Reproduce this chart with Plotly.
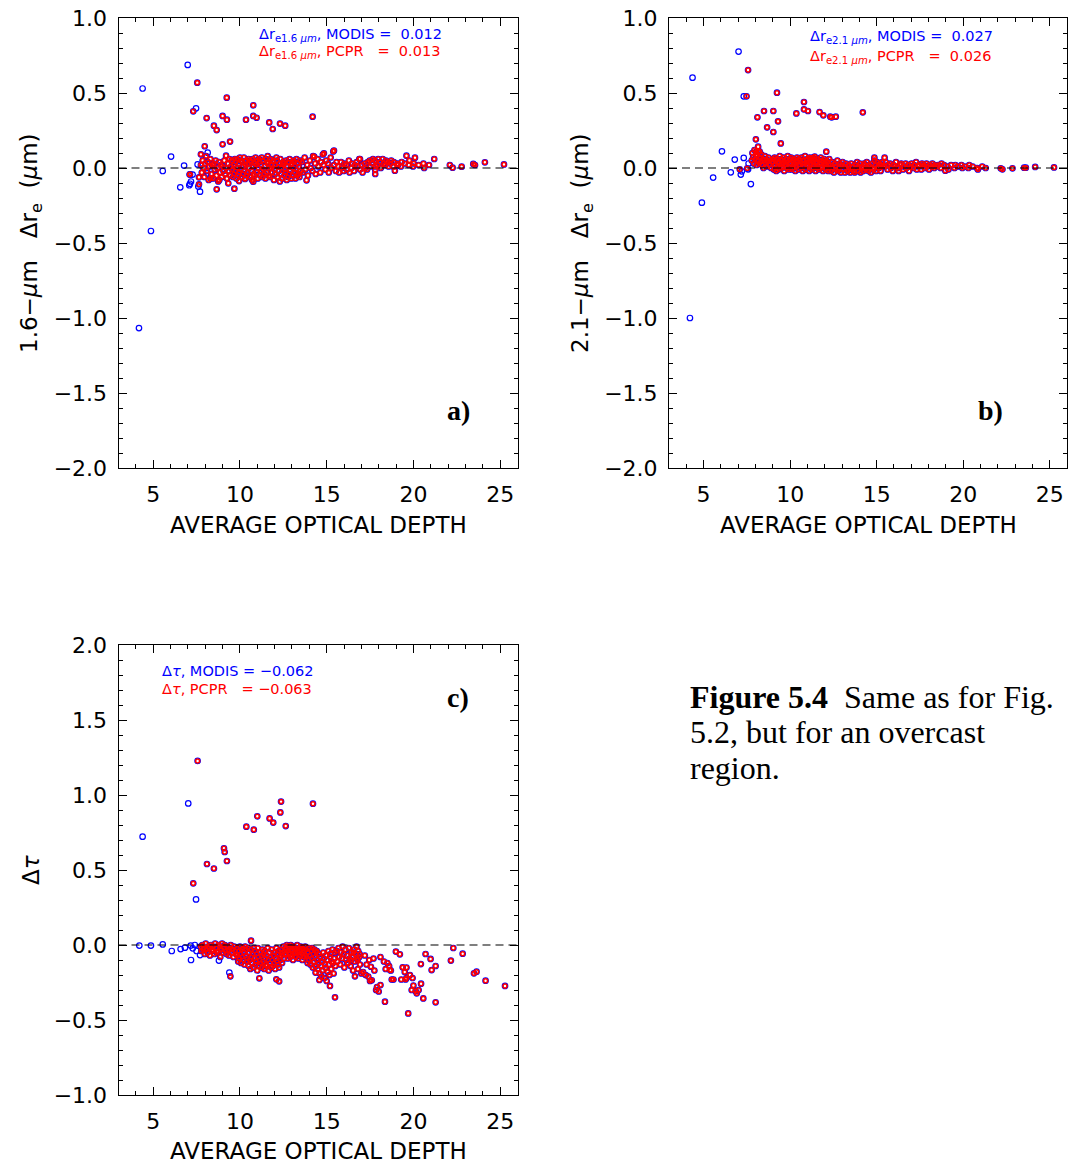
import plotly.graph_objects as go

# ---------------- DATA ----------------
# Panel a: 1.6-um delta r_e vs average optical depth
tau_a_modis_only = [4.18, 4.39, 4.87, 5.55, 6.03, 6.56, 6.78, 6.99, 7.08, 7.12,
                    7.18, 7.27, 7.47, 7.56, 7.60, 7.70, 8.12, 8.14, 9.37, 11.00]
dre16_a_modis_only = [-1.067, 0.530, -0.420, -0.020, 0.076, -0.129, 0.016, 0.687, -0.115, -0.105,
                      -0.090, -0.044, 0.398, 0.024, -0.124, -0.158, -0.036, 0.102, 0.027, -0.013]

tau_a_outl = [7.10, 7.12, 7.31, 7.54, 7.64, 7.64, 7.75, 7.97, 8.08, 8.31,
              8.50, 8.66, 8.66, 8.81, 9.00, 9.00, 9.20, 9.24, 9.25, 9.33,
              9.43, 9.68, 9.95, 10.29, 10.35, 10.77, 10.77, 10.77, 10.96, 11.69,
              11.89, 12.31, 12.61, 13.84, 14.19, 14.28, 14.84, 15.42, 16.92, 17.80,
              17.80, 18.93, 19.60, 20.09, 21.20, 22.10, 22.26, 22.78, 23.45, 23.55,
              24.12, 25.22]
dre16_a_outl = [-0.044, -0.042, 0.378, 0.569, -0.062, -0.109, 0.091, 0.145, 0.333, -0.069,
                0.282, 0.253, -0.142, -0.080, 0.347, 0.158, 0.082, 0.469, 0.322, -0.102,
                0.176, -0.138, -0.087, -0.073, 0.322, 0.418, 0.347, -0.091, 0.335, 0.304,
                0.260, 0.296, 0.282, -0.082, 0.342, 0.076, 0.098, 0.116, 0.060, -0.013,
                -0.040, -0.018, 0.082, 0.069, 0.060, 0.020, 0.002, 0.009, 0.027, 0.020,
                0.038, 0.024]

tau_a_band = [
    7.75, 7.80, 7.85, 7.90, 7.95, 8.00, 8.05, 8.10, 8.15, 8.20,
    8.25, 8.30, 8.35, 8.40, 8.45, 8.50, 8.55, 8.60, 8.65, 8.70,
    8.75, 8.80, 8.85, 8.90, 8.95, 9.00, 9.05, 9.10, 9.15, 9.20,
    9.25, 9.30, 9.35, 9.40, 9.45, 9.50,
    9.53, 9.56, 9.60, 9.63, 9.66, 9.70, 9.73, 9.77, 9.80, 9.83, 9.86, 9.90, 9.93, 9.96, 10.00,
    10.03, 10.06, 10.10, 10.13, 10.17, 10.20, 10.23, 10.26, 10.30, 10.33, 10.36, 10.40, 10.43, 10.47, 10.50,
    10.53, 10.56, 10.60, 10.63, 10.66, 10.70, 10.73, 10.77, 10.80, 10.83, 10.86, 10.90, 10.93, 10.96, 11.00,
    11.03, 11.06, 11.10, 11.13, 11.17, 11.20, 11.23, 11.26, 11.30, 11.33, 11.36, 11.40, 11.43, 11.47, 11.50,
    11.53, 11.56, 11.60, 11.63, 11.66, 11.70, 11.73, 11.77, 11.80, 11.83, 11.86, 11.90, 11.93, 11.96, 12.00,
    12.03, 12.06, 12.10, 12.13, 12.17, 12.20, 12.23, 12.26, 12.30, 12.33, 12.36, 12.40, 12.43, 12.47, 12.50,
    12.53, 12.56, 12.60, 12.63, 12.66, 12.70, 12.73, 12.77, 12.80, 12.83, 12.86, 12.90, 12.93, 12.96, 13.00,
    13.03, 13.06, 13.10, 13.13, 13.17, 13.20, 13.23, 13.26, 13.30, 13.33, 13.36, 13.40, 13.43, 13.47, 13.50,
    13.58, 13.62, 13.73, 13.77, 13.88, 13.92, 14.03, 14.07, 14.18, 14.22, 14.33, 14.37, 14.48, 14.52,
    14.63, 14.67, 14.78, 14.82, 14.93, 14.97, 15.08, 15.12, 15.23, 15.27, 15.38, 15.42, 15.53, 15.57,
    15.68, 15.72, 15.83, 15.87, 15.98, 16.02, 16.13, 16.17, 16.28, 16.32, 16.43, 16.47, 16.58,
    16.62, 16.73, 16.77, 16.88, 16.92, 17.03, 17.07, 17.18, 17.22, 17.33, 17.37, 17.48, 17.52,
    17.63, 17.67, 17.78, 17.82, 17.93, 17.97, 18.08, 18.12, 18.23,
    18.27, 18.38, 18.42, 18.53, 18.57, 18.68, 18.72, 18.83, 18.87,
    19.08, 19.12, 19.28, 19.32, 19.50, 19.73, 19.77, 19.98, 20.02, 20.30, 20.58, 20.62, 20.90]
dre16_a_band = [
    0.02, -0.03, 0.05, 0.00, -0.06, 0.03, 0.08, -0.02, 0.04, -0.08,
    0.01, 0.06, -0.04, 0.02, -0.07, 0.03, -0.01, 0.05, -0.05, 0.00,
    -0.09, 0.04, -0.03, 0.02, -0.06, 0.01, -0.02, 0.05, -0.04, 0.00,
    -0.07, 0.03, -0.02, 0.06, -0.05, 0.01,
    0.05, -0.01, -0.06, 0.02, -0.04, 0.06, -0.02, 0.04, -0.07, 0.06, 0.00, -0.05, 0.03, -0.03, 0.07,
    -0.01, 0.05, -0.06, 0.04, -0.04, 0.01, 0.07, -0.02, -0.07, 0.02, 0.05, -0.05, -0.03, 0.03, 0.06,
    0.00, -0.06, 0.05, 0.04, -0.02, -0.08, 0.06, 0.01, -0.04, -0.05, 0.03, 0.07, 0.02, -0.03, 0.05,
    -0.07, 0.00, 0.06, 0.04, -0.05, 0.02, -0.02, 0.07, -0.06, 0.05, -0.01, -0.04, 0.01, -0.07, 0.06,
    -0.03, 0.04, 0.08, 0.03, -0.05, 0.00, -0.06, 0.06, 0.02, 0.00, -0.03, 0.05, 0.04, -0.08, -0.01,
    -0.04, 0.02, 0.07, 0.05, -0.06, 0.01, -0.02, 0.03, -0.09, 0.06, -0.04, 0.00, -0.07, 0.02, 0.04,
    0.03, -0.05, -0.01, -0.03, 0.05, -0.08, 0.01, -0.06, 0.04, -0.04, 0.06, -0.02, 0.02, -0.07, 0.03,
    -0.05, 0.00, 0.05, 0.04, -0.03, -0.07, -0.01, 0.06, -0.05, 0.03, -0.04, 0.01, -0.06, 0.05, -0.02,
    0.04, -0.03, 0.07, -0.01, 0.02, -0.05, 0.05, 0.00, -0.02, 0.08, 0.03, -0.04, 0.06, 0.01,
    -0.03, 0.04, 0.09, 0.02, -0.01, 0.05, 0.03, -0.03, 0.07, 0.00, 0.11, 0.02, -0.02, 0.04,
    0.01, -0.03, 0.04, 0.00, -0.02, 0.03, 0.02, -0.01, 0.05, -0.03, 0.00, 0.03, -0.02,
    0.02, 0.04, 0.01, 0.06, -0.01, 0.02, -0.03, 0.03, 0.00, -0.01, 0.04, 0.05, 0.01,
    0.03, 0.06, 0.05, 0.01, 0.02, 0.06, 0.04, 0.00, 0.06,
    0.03, 0.02, 0.05, 0.04, 0.01, 0.03, 0.05, 0.01, 0.04,
    0.03, 0.02, 0.01, 0.04, 0.03, 0.02, 0.05, 0.01, 0.03, 0.02, 0.03, 0.00, 0.02]

# Panel b: 2.1-um delta r_e vs average optical depth
tau_b_modis_only = [4.21, 4.36, 4.90, 5.55, 6.06, 6.57, 6.80, 7.02, 7.15, 7.21,
                    7.32, 7.32, 7.57, 7.60, 7.73]
dre21_b_modis_only = [-1.000, 0.602, -0.231, -0.064, 0.111, -0.029, 0.056, 0.776, -0.044, -0.022,
                      0.478, 0.067, -0.009, 0.030, -0.107]

tau_b_outl = [7.09, 7.48, 7.52, 7.57, 8.02, 8.05, 8.11, 8.15, 8.24, 8.49,
              8.67, 9.03, 9.03, 9.24, 9.30, 9.46, 10.36, 10.80, 10.80, 11.03,
              11.12, 11.42, 11.70, 11.92, 12.09, 12.32, 12.40, 12.64, 14.20, 14.87,
              15.46, 18.97, 22.17, 22.27, 22.85, 23.52, 23.62, 24.16, 25.25]
dre21_b_outl = [-0.009, 0.478, -0.002, 0.653, 0.191, 0.109, 0.338, 0.142, 0.109, 0.380,
                0.271, 0.380, 0.240, 0.502, 0.311, 0.164, 0.364, 0.440, 0.391, 0.380,
                0.069, 0.076, 0.373, 0.351, 0.109, 0.342, 0.338, 0.342, 0.371, 0.069,
                0.069, -0.018, -0.002, -0.009, -0.002, 0.002, 0.002, 0.007, 0.004]

tau_b_band = [
    7.78, 7.82, 7.86, 7.90, 7.94, 7.98, 8.02, 8.06, 8.10, 8.14,
    8.18, 8.22, 8.26, 8.30, 8.34, 8.38, 8.42, 8.46, 8.50, 8.54,
    8.58, 8.62, 8.66, 8.70, 8.75, 8.80, 8.85, 8.90, 8.95, 9.00,
    9.03, 9.06, 9.10, 9.13, 9.16, 9.20, 9.23, 9.27, 9.30, 9.33, 9.36, 9.40, 9.43, 9.47, 9.50,
    9.53, 9.56, 9.60, 9.63, 9.66, 9.70, 9.73, 9.77, 9.80, 9.83, 9.86, 9.90, 9.93, 9.96, 10.00,
    10.03, 10.06, 10.10, 10.13, 10.17, 10.20, 10.23, 10.26, 10.30, 10.33, 10.36, 10.40, 10.43, 10.47, 10.50,
    10.53, 10.56, 10.60, 10.63, 10.66, 10.70, 10.73, 10.77, 10.80, 10.83, 10.86, 10.90, 10.93, 10.96, 11.00,
    11.03, 11.06, 11.10, 11.13, 11.17, 11.20, 11.23, 11.26, 11.30, 11.33, 11.36, 11.40, 11.43, 11.47, 11.50,
    11.53, 11.56, 11.60, 11.63, 11.66, 11.70, 11.73, 11.77, 11.80, 11.83, 11.86, 11.90, 11.93, 11.96, 12.00,
    12.03, 12.06, 12.10, 12.13, 12.17, 12.20, 12.23, 12.26, 12.30,
    12.33, 12.37, 12.43, 12.47, 12.53, 12.57, 12.63, 12.67, 12.73, 12.77,
    12.83, 12.87, 12.93, 12.97, 13.03, 13.07, 13.13, 13.17, 13.23, 13.27,
    13.33, 13.37, 13.43, 13.47, 13.53, 13.57, 13.63, 13.67, 13.73, 13.77,
    13.83, 13.87, 13.93, 13.97, 14.03, 14.07, 14.13, 14.17, 14.23, 14.27,
    14.33, 14.37, 14.43, 14.47, 14.53, 14.57, 14.63, 14.67, 14.73, 14.77,
    14.83, 14.87, 14.93, 14.97, 15.03, 15.07, 15.13, 15.17, 15.23, 15.27,
    15.33, 15.37,
    15.48, 15.52, 15.63, 15.67, 15.78, 15.82, 15.93, 15.97, 16.08, 16.12,
    16.23, 16.27, 16.38, 16.42, 16.53, 16.57, 16.68, 16.72, 16.83, 16.87,
    16.98, 17.02, 17.13, 17.17, 17.28, 17.32, 17.43, 17.47, 17.58, 17.62,
    17.73, 17.77, 17.88, 17.92, 18.03, 18.07, 18.18, 18.22, 18.33, 18.37,
    18.50, 18.55, 18.70, 18.75, 18.90, 19.10, 19.15, 19.30, 19.50, 19.55,
    19.70, 19.90, 19.95, 20.10, 20.30, 20.35, 20.55, 20.80, 20.85, 21.10,
    21.30]
dre21_b_band = [
    0.05, 0.10, 0.07, 0.03, 0.12, 0.06, 0.09, 0.02, 0.08, 0.05,
    0.11, 0.03, 0.07, 0.04, 0.09, 0.02, 0.06, 0.00, 0.05, 0.08,
    0.03, 0.06, 0.01, 0.04, 0.07, 0.02, 0.05, 0.00, 0.04, 0.06,
    0.04, -0.01, 0.07, 0.02, 0.05, -0.02, 0.06, 0.01, 0.03, -0.01, 0.04, 0.08, 0.02, 0.06, 0.00,
    0.05, 0.01, 0.03, 0.07, -0.02, 0.04, 0.02, 0.06, 0.00, 0.04, 0.08, 0.01, -0.01, 0.03, 0.06,
    0.03, 0.07, -0.01, 0.05, 0.00, 0.02, 0.06, 0.03, -0.02, 0.01, 0.05, 0.07, 0.04, -0.01, 0.02,
    0.06, 0.02, 0.04, 0.00, 0.07, 0.03, -0.02, 0.05, 0.01, 0.03, 0.08, -0.01, 0.05, 0.02, 0.06,
    0.01, 0.04, -0.02, 0.06, 0.03, 0.00, 0.05, -0.01, 0.07, 0.02, 0.04, 0.01, 0.06, -0.02, 0.03,
    0.04, 0.00, 0.06, 0.02, -0.01, 0.05, 0.03, 0.07, 0.00, 0.05, 0.01, -0.02, 0.04, 0.06, 0.02,
    0.03, -0.01, 0.05, 0.01, 0.04, -0.02, 0.02, 0.06, 0.00,
    0.02, -0.02, 0.04, 0.00, -0.03, 0.03, 0.01, -0.01, 0.05, -0.02,
    0.00, 0.03, -0.03, 0.02, 0.04, -0.01, 0.01, -0.03, 0.03, 0.00,
    -0.02, 0.02, 0.00, -0.03, 0.03, -0.01, 0.01, -0.02, -0.03, 0.02,
    0.00, 0.04, -0.02, 0.01, 0.03, -0.03, 0.01, 0.00, -0.02, 0.03,
    0.02, -0.01, 0.04, 0.00, -0.02, 0.02, 0.01, -0.03, 0.03, 0.00,
    -0.01, 0.05, 0.02, -0.02, 0.04, 0.01, 0.00, 0.03, -0.02, 0.02,
    0.04, 0.01,
    0.01, 0.04, -0.01, 0.02, 0.03, 0.00, -0.02, 0.02, 0.01, 0.04,
    0.00, -0.02, 0.02, 0.03, -0.01, 0.01, 0.03, 0.00, 0.02, -0.02,
    0.01, 0.03, 0.00, 0.02, 0.04, -0.01, 0.01, 0.02, -0.01, 0.03,
    0.02, 0.00, 0.03, 0.01, -0.01, 0.02, 0.01, 0.03, 0.00, 0.02,
    0.01, 0.02, 0.00, 0.03, 0.02, 0.01, -0.01, 0.02, 0.00, 0.02,
    0.01, 0.02, 0.00, 0.01, 0.00, 0.02, 0.01, 0.00, -0.01, 0.01,
    0.00]

# Panel c: delta tau vs average optical depth
tau_c_modis_only = [4.20, 4.39, 4.87, 5.55, 6.07, 6.58, 6.83, 7.02, 7.16, 7.18,
                    7.28, 7.40, 7.47, 7.50, 7.70, 8.79, 9.39]
dtau_c_modis_only = [-0.004, 0.722, -0.004, 0.004, -0.040, -0.027, -0.018, 0.944, -0.004, -0.100,
                     -0.022, 0.000, 0.304, -0.040, -0.067, -0.104, -0.184]

tau_c_outl = [7.31, 7.56, 8.10, 8.50, 9.08, 9.12, 9.25, 10.37, 10.80, 11.00,
              11.71, 11.92, 12.33, 12.37, 12.64, 14.21,
              9.45, 10.64, 11.12, 12.10, 12.26, 14.36, 14.58, 15.19, 15.48, 16.63,
              18.36, 19.70, 20.57, 21.28, 20.19, 20.13, 20.44, 18.99, 19.22, 20.70,
              20.99, 21.28, 21.05, 20.43, 22.30, 22.16, 22.84, 23.49, 23.64, 24.16,
              25.28, 18.65, 19.38,
              16.80, 17.00, 17.10, 17.25, 17.30, 17.50, 17.55, 17.60, 17.75, 17.85,
              17.90, 18.00, 18.10, 18.30, 18.40, 18.50, 18.60, 18.70, 18.75, 18.85,
              19.30, 19.50, 19.55, 19.60, 19.80, 19.95, 16.90, 17.20, 17.45, 17.70,
              16.40, 16.55, 16.20, 16.75, 18.10, 19.60, 20.00, 19.90, 20.30, 17.40]
dtau_c_outl = [0.411, 1.227, 0.540, 0.510, 0.645, 0.620, 0.560, 0.789, 0.769, 0.858,
               0.844, 0.816, 0.884, 0.956, 0.793, 0.942,
               -0.209, 0.029, -0.222, -0.229, -0.242, -0.184, -0.233, -0.273, -0.349, -0.209,
               -0.378, -0.456, -0.356, -0.382, -0.322, -0.307, -0.258, -0.044, -0.062, -0.060,
               -0.093, -0.140, -0.167, -0.127, -0.020, -0.104, -0.058, -0.189, -0.178, -0.238,
               -0.273, -0.167, -0.149,
               -0.160, -0.190, -0.180, -0.200, -0.130, -0.240, -0.145, -0.235, -0.170, -0.300,
               -0.280, -0.310, -0.267, -0.110, -0.160, -0.120, -0.140, -0.170, -0.230, -0.230,
               -0.230, -0.180, -0.230, -0.220, -0.200, -0.220, -0.060, -0.070, -0.100, -0.090,
               -0.100, -0.050, -0.120, -0.090, -0.080, -0.150, -0.270, -0.300, -0.300, -0.210]

tau_c_band = [
    7.73, 7.77, 7.83, 7.87, 7.93, 7.97, 8.03, 8.07, 8.13, 8.17, 8.23, 8.27, 8.33, 8.37, 8.43, 8.47, 8.53, 8.57, 8.63, 8.67,
    8.73, 8.77, 8.83, 8.87, 8.93, 8.97, 9.03, 9.07, 9.13, 9.17, 9.23, 9.27, 9.33, 9.37, 9.43, 9.47, 9.53, 9.57, 9.63, 9.67,
    9.73, 9.77,
    9.83, 9.86, 9.90, 9.93, 9.96, 10.00, 10.03, 10.06, 10.10, 10.13, 10.17, 10.20, 10.23, 10.26, 10.30,
    10.33, 10.36, 10.40, 10.43, 10.47, 10.50, 10.53, 10.56, 10.60, 10.63, 10.66, 10.70, 10.73, 10.77, 10.80,
    10.83, 10.86, 10.90, 10.93, 10.96, 11.00, 11.03, 11.06, 11.10, 11.13, 11.17, 11.20, 11.23, 11.26, 11.30,
    11.33, 11.36, 11.40, 11.43, 11.47, 11.50, 11.53, 11.56, 11.60, 11.63, 11.66, 11.70, 11.73, 11.77, 11.80,
    11.83, 11.86, 11.90, 11.93, 11.96, 12.00, 12.03, 12.06, 12.10, 12.13, 12.17, 12.20, 12.23, 12.26, 12.30,
    12.33, 12.36, 12.40, 12.43, 12.47, 12.50, 12.53, 12.56, 12.60,
    12.63, 12.66, 12.70, 12.73, 12.76, 12.80, 12.83, 12.86, 12.90, 12.93, 12.96, 13.00, 13.03, 13.06, 13.10, 13.13, 13.16, 13.20,
    13.23, 13.26, 13.30, 13.33, 13.36, 13.40, 13.43, 13.46, 13.50, 13.53, 13.56, 13.60, 13.63, 13.66, 13.70, 13.73, 13.76, 13.80,
    13.83, 13.86, 13.90, 13.93, 13.96, 14.00, 14.03, 14.06, 14.10, 14.13, 14.16, 14.20, 14.23, 14.26, 14.30, 14.33, 14.36, 14.40,
    14.43, 14.46, 14.50, 14.53, 14.56, 14.60, 14.63, 14.66, 14.70, 14.73, 14.76, 14.80, 14.83, 14.86, 14.90, 14.93, 14.96, 15.00,
    15.03, 15.06, 15.10, 15.13, 15.16, 15.20, 15.23, 15.26, 15.30, 15.33, 15.36, 15.40, 15.43, 15.46, 15.50,
    15.58, 15.62, 15.68, 15.72, 15.78, 15.82, 15.88, 15.92, 15.98, 16.02, 16.08, 16.12, 16.18, 16.22,
    16.28, 16.32, 16.38, 16.42, 16.48, 16.52, 16.58, 16.62, 16.68, 16.72, 16.78, 16.82, 16.88, 16.92]
dtau_c_band = [
    -0.01, -0.04, 0.00, -0.03, -0.02, -0.06, 0.01, -0.03, -0.05, -0.01, -0.02, -0.07, 0.00, -0.04, -0.03, -0.01, -0.06, 0.01, -0.02, -0.05,
    -0.04, 0.00, -0.01, -0.08, -0.03, 0.01, -0.05, -0.02, 0.00, -0.04, -0.06, -0.01, -0.03, -0.07, -0.02, 0.00, -0.05, -0.03, -0.08, -0.01,
    -0.04, -0.06,
    -0.02, -0.07, -0.11, -0.04, -0.09, -0.01, -0.06, -0.12, -0.03, -0.08, -0.02, -0.10, -0.05, -0.13, -0.01,
    -0.07, -0.03, -0.11, -0.09, -0.02, -0.14, -0.05, -0.10, -0.16, -0.03, -0.08, -0.12, -0.06, -0.15, -0.02,
    -0.09, -0.04, -0.13, -0.11, -0.06, -0.17, -0.02, -0.08, -0.14, -0.10, -0.05, -0.12, -0.07, -0.15, -0.03,
    -0.11, -0.06, -0.16, -0.04, -0.09, -0.13, -0.07, -0.14, -0.02, -0.10, -0.17, -0.05, -0.12, -0.08, -0.15,
    -0.03, -0.10, -0.14, -0.07, -0.12, -0.05, -0.16, -0.09, -0.02, -0.11, -0.06, -0.13, -0.04, -0.15, -0.08,
    -0.10, -0.03, -0.07, -0.12, -0.05, -0.01, -0.09, -0.04, -0.06,
    -0.02, -0.06, 0.00, -0.04, -0.09, -0.01, -0.05, -0.02, -0.08, 0.00, -0.04, -0.07, -0.03, -0.10, -0.01, -0.06, -0.02, -0.05,
    -0.08, -0.03, 0.00, -0.05, -0.09, -0.02, -0.04, -0.07, -0.01, -0.03, -0.06, -0.10, -0.02, -0.05, -0.08, -0.04, -0.01, -0.07,
    -0.03, -0.08, -0.12, -0.05, -0.10, -0.02, -0.07, -0.13, -0.04, -0.09, -0.02, -0.15, -0.06, -0.11, -0.03, -0.08, -0.14, -0.05,
    -0.04, -0.10, -0.16, -0.12, -0.06, -0.19, -0.08, -0.14, -0.21, -0.11, -0.17, -0.05, -0.09, -0.22, -0.13, -0.15, -0.07, -0.24,
    -0.10, -0.18, -0.04, -0.13, -0.20, -0.08, -0.06, -0.16, -0.11, -0.03, -0.12, -0.19, -0.09, -0.05, -0.14,
    -0.04, -0.11, -0.02, -0.08, -0.13, -0.05, -0.09, -0.01, -0.06, -0.15, -0.03, -0.10, -0.07, -0.12,
    -0.02, -0.09, -0.14, -0.05, -0.08, -0.17, -0.03, -0.11, -0.06, -0.01, -0.10, -0.04, -0.08, -0.13]

x_ticks = [5, 10, 15, 20, 25]
legend_a = ["0.012", "0.013"]
legend_b = ["0.027", "0.026"]
legend_c = ["\u22120.062", "\u22120.063"]

# ---------------- LAYOUT HELPERS ----------------
W, H = 1068, 1163
def fx(p):
    return p / W
def fy(p):
    return 1 - p / H

BLUE = "#0000ff"
RED = "#ff0000"
TICKFONT = dict(family="DejaVu Sans", size=22, color="black")

fig = go.Figure()

panels = [
    ("x", "y", tau_a_modis_only + tau_a_outl + tau_a_band, dre16_a_modis_only + dre16_a_outl + dre16_a_band,
     tau_a_outl + tau_a_band, dre16_a_outl + dre16_a_band),
    ("x2", "y2", tau_b_modis_only + tau_b_outl + tau_b_band, dre21_b_modis_only + dre21_b_outl + dre21_b_band,
     tau_b_outl + tau_b_band, dre21_b_outl + dre21_b_band),
    ("x3", "y3", tau_c_modis_only + tau_c_outl + tau_c_band, dtau_c_modis_only + dtau_c_outl + dtau_c_band,
     tau_c_outl + tau_c_band, dtau_c_outl + dtau_c_band),
]
for xa, ya, mx, my, px_, py_ in panels:
    fig.add_trace(go.Scatter(x=mx, y=my, xaxis=xa, yaxis=ya, mode="markers", name="MODIS",
                             marker=dict(symbol="circle-open", size=5.5, color=BLUE,
                                         line=dict(width=1.2, color=BLUE)),
                             showlegend=False, cliponaxis=False))
    fig.add_trace(go.Scatter(x=px_, y=py_, xaxis=xa, yaxis=ya, mode="markers", name="PCPR",
                             marker=dict(symbol="circle-open", size=4, color=RED,
                                         line=dict(width=1.6, color=RED)),
                             showlegend=False, cliponaxis=False))

def xaxis_cfg(dom, anchor):
    return dict(domain=dom, anchor=anchor, range=[3, 26], tickvals=x_ticks, automargin=False,
                ticks="inside", ticklen=8, tickwidth=1, tickcolor="black",
                minor=dict(dtick=1, tick0=0, ticks="inside", ticklen=4, tickwidth=1, tickcolor="black"),
                showline=True, linecolor="black", linewidth=1, mirror="ticks",
                showgrid=False, zeroline=False, tickfont=TICKFONT, ticklabelstandoff=7)

def yaxis_cfg(dom, anchor, rng):
    return dict(domain=dom, anchor=anchor, range=rng, dtick=0.5, tick0=0, tickformat=".1f",
                automargin=False,
                ticks="inside", ticklen=8, tickwidth=1, tickcolor="black",
                minor=dict(dtick=0.1, tick0=0, ticks="inside", ticklen=4, tickwidth=1, tickcolor="black"),
                showline=True, linecolor="black", linewidth=1, mirror="ticks",
                showgrid=False, zeroline=False, tickfont=TICKFONT, ticklabelstandoff=6)

xa_dom = [fx(118.5), fx(517.5)]
xb_dom = [fx(669), fx(1067)]
yab_dom = [fy(468), fy(18)]
yc_dom = [fy(1095), fy(645)]

fig.update_layout(
    width=W, height=H, margin=dict(l=0, r=0, t=0, b=0, pad=0, autoexpand=False),
    paper_bgcolor="white", plot_bgcolor="white", showlegend=False,
    xaxis=xaxis_cfg(xa_dom, "y"), yaxis=yaxis_cfg(yab_dom, "x", [-2, 1]),
    xaxis2=xaxis_cfg(xb_dom, "y2"), yaxis2=yaxis_cfg(yab_dom, "x2", [-2, 1]),
    xaxis3=xaxis_cfg(xa_dom, "y3"), yaxis3=yaxis_cfg(yc_dom, "x3", [-1, 2]),
)

# zero reference lines
for xr, yr in [("x domain", "y"), ("x2 domain", "y2"), ("x3 domain", "y3")]:
    fig.add_shape(type="line", xref=xr, yref=yr, x0=0, x1=1, y0=0, y1=0,
                  line=dict(color="black", width=1.2, dash="8px,5px"))

ann = []
AXFONT = dict(family="DejaVu Sans", size=23, color="black")
NB = "\u00a0"
# x axis titles
for cx, cy in [((118.5 + 517.5) / 2, 525), ((669 + 1067) / 2, 525), ((118.5 + 517.5) / 2, 1151)]:
    ann.append(dict(text="AVERAGE OPTICAL DEPTH", x=fx(cx), y=fy(cy), xref="paper", yref="paper",
                    xanchor="center", yanchor="middle", showarrow=False, font=AXFONT))
# y axis titles
ann.append(dict(text="1.6\u2212<i>\u03bc</i>m" + NB * 3 + "\u0394r<sub>e</sub>" + NB * 2 + "(<i>\u03bc</i>m)",
                x=fx(31), y=fy(243),
                xref="paper", yref="paper", textangle=-90, xanchor="center", yanchor="middle",
                showarrow=False, font=AXFONT))
ann.append(dict(text="2.1\u2212<i>\u03bc</i>m" + NB * 3 + "\u0394r<sub>e</sub>" + NB * 2 + "(<i>\u03bc</i>m)",
                x=fx(582), y=fy(243),
                xref="paper", yref="paper", textangle=-90, xanchor="center", yanchor="middle",
                showarrow=False, font=AXFONT))
ann.append(dict(text="\u0394<i>\u03c4</i>", x=fx(31), y=fy(870),
                xref="paper", yref="paper", textangle=-90, xanchor="center", yanchor="middle",
                showarrow=False, font=AXFONT))

# in-panel statistics
LF = 14.5
def stat(txt, x, y, color):
    ann.append(dict(text=txt, x=fx(x), y=fy(y), xref="paper", yref="paper", xanchor="left",
                    yanchor="middle", showarrow=False,
                    font=dict(family="DejaVu Sans", size=LF, color=color)))

stat("\u0394r<sub>e1.6 <i>\u03bcm</i></sub>, MODIS " + "=" + NB * 2 + legend_a[0], 257, 35, BLUE)
stat("\u0394r<sub>e1.6 <i>\u03bcm</i></sub>, PCPR" + NB * 3 + "=" + NB * 2 + legend_a[1], 257, 52, RED)
stat("\u0394r<sub>e2.1 <i>\u03bcm</i></sub>, MODIS " + "=" + NB * 2 + legend_b[0], 808, 37, BLUE)
stat("\u0394r<sub>e2.1 <i>\u03bcm</i></sub>, PCPR" + NB * 3 + "=" + NB * 2 + legend_b[1], 808, 57, RED)
stat("\u0394<i>\u03c4</i>, MODIS = " + legend_c[0], 160, 671, BLUE)
stat("\u0394<i>\u03c4</i>, PCPR" + NB * 3 + "= " + legend_c[1], 160, 689, RED)

# panel letters
for t, x, y in [("a)", 458, 410), ("b)", 990, 410), ("c)", 458, 697)]:
    ann.append(dict(text="<b>" + t + "</b>", x=fx(x), y=fy(y), xref="paper", yref="paper",
                    xanchor="center", yanchor="middle", showarrow=False,
                    font=dict(family="Liberation Serif", size=28, color="black")))

# caption
CAP = dict(family="Liberation Serif", size=32, color="black")
for t, y in [("<b>Figure 5.4</b>" + NB * 2 + "Same as for Fig.", 697),
             ("5.2, but for an overcast", 732),
             ("region.", 768)]:
    ann.append(dict(text=t, x=fx(688), y=fy(y), xref="paper", yref="paper", xanchor="left",
                    yanchor="middle", showarrow=False, font=CAP))

fig.update_layout(annotations=ann)
fig.write_html("out.html")
